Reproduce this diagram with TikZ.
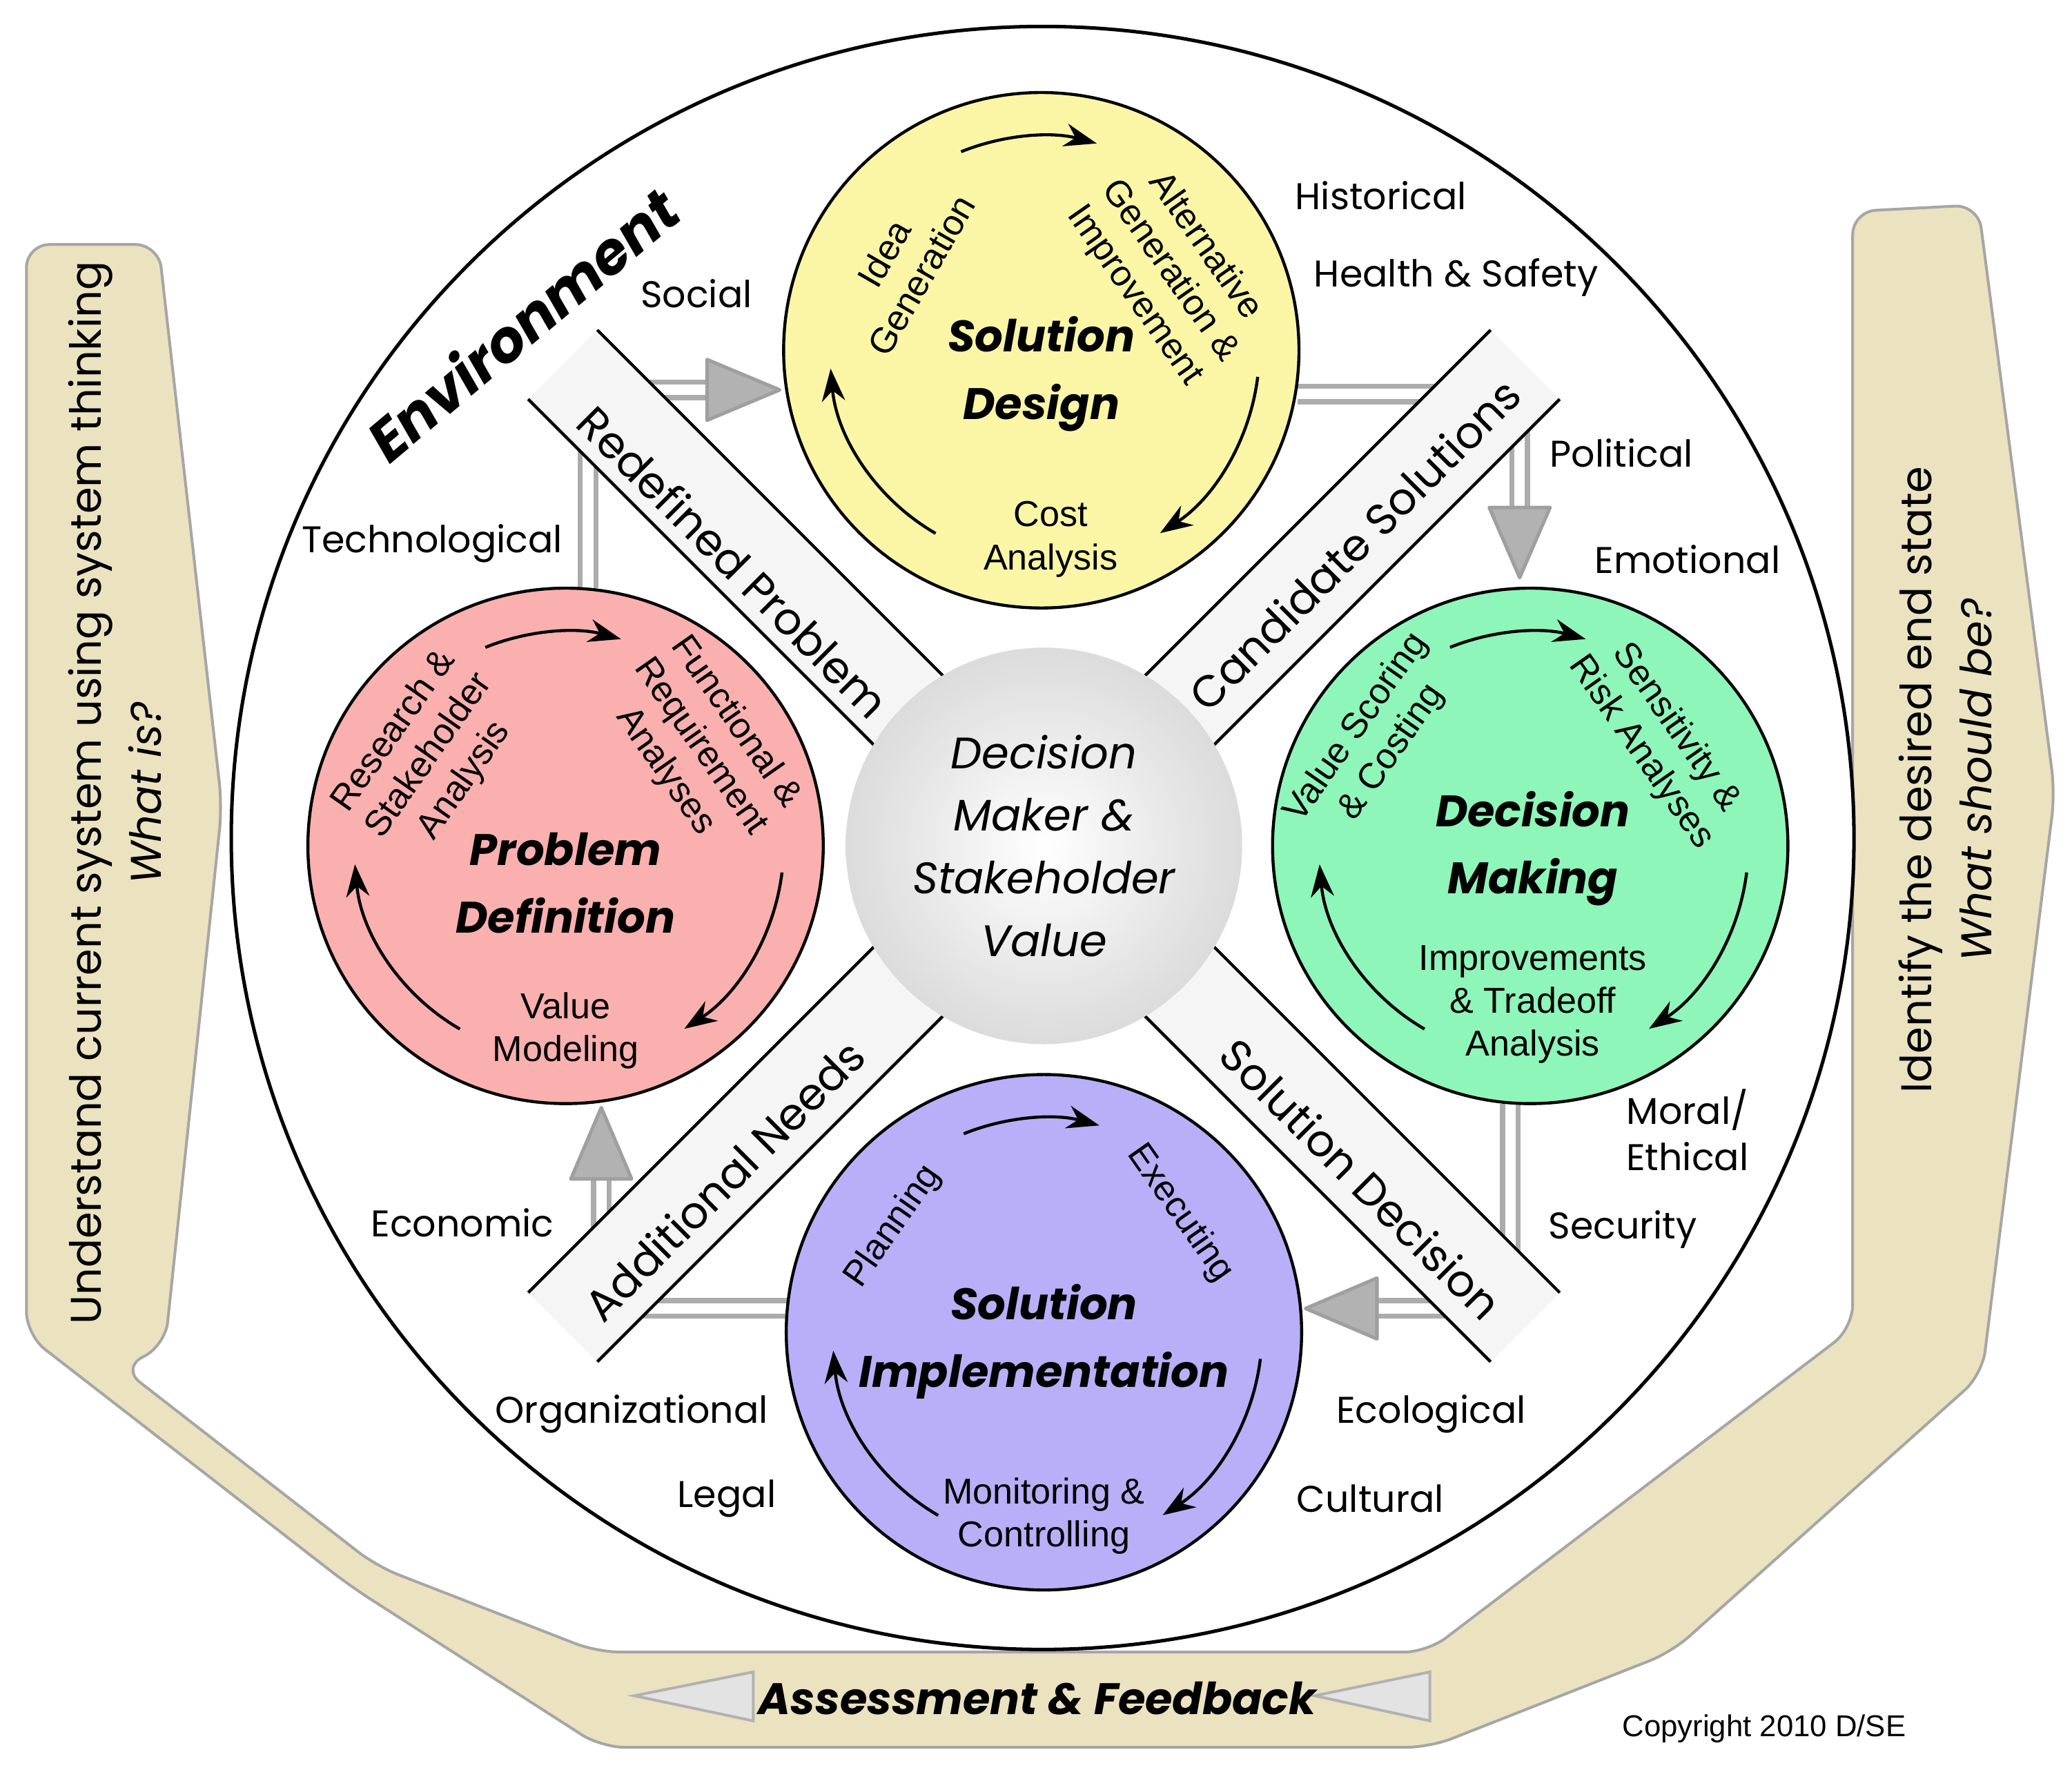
\documentclass[tikz,border=0pt]{standalone}
\usepackage{fontspec}
\setmainfont{Liberation Sans}
\newfontfamily\fut{Poppins}
\usetikzlibrary{arrows.meta}
\definecolor{beige}{HTML}{EBE2C0}
\definecolor{cyel}{HTML}{FAF6A6}
\definecolor{cpink}{HTML}{F9B0AE}
\definecolor{cgreen}{HTML}{8DF6B8}
\definecolor{cpurp}{HTML}{B8AFF8}
\tikzset{
  stage/.style={circle,draw=black,line width=1.3pt,minimum size=390*0.02cm,inner sep=0pt},
  env/.style={font=\fut\fontsize{16}{20}\selectfont},
  inner/.style={font=\fontsize{15.5}{18.5}\selectfont,align=center},
  title/.style={font=\fut\bfseries\itshape\fontsize{19}{29}\selectfont,align=center},
  band/.style={font=\fut\fontsize{19}{22}\selectfont},
  flow/.style={draw=gray!65,line width=2.2pt,double=white,double distance=4.5pt},
  head/.style={fill=gray!60,draw=gray!75,line width=1.5pt,line join=round},
  cyc/.style={line width=1.3pt,-{Stealth[length=14pt,width=10pt]}},
  side/.style={font=\fut\fontsize{18.5}{26}\selectfont,align=center},
}
\begin{document}
\begin{tikzpicture}[x=0.02cm,y=-0.02cm]
\useasboundingbox (0,0) rectangle (1568,1346);
% outer beige shape
\draw[fill=beige,draw=gray!70,line width=1.2pt,rounded corners=10pt]
 (20,185) -- (120,185) -- (168,610) -- (125,1018) -- (92,1035)
 -- (285,1185) -- (452,1250) -- (1080,1250) -- (1402,1005) -- (1402,160)
 -- (1497,155) -- (1555,600) -- (1500,1040) -- (1265,1250) -- (1082,1322)
 -- (455,1322) -- (265,1200) -- (20,1010) -- cycle;
\node[side,rotate=90] (lt) at (87,600) {Understand current system using system thinking\\\itshape What is?};
\node[side,rotate=90] (rt) at (1472,590) {Identify the desired end state\\\itshape What should be?};
\draw[fill=gray!22,draw=gray!60,line width=1.2pt] (480,1283) -- (570,1265) -- (570,1302) -- cycle;
\draw[fill=gray!22,draw=gray!60,line width=1.2pt] (995,1283) -- (1082,1265) -- (1082,1302) -- cycle;
\node[font=\fut\bfseries\itshape\fontsize{19}{22}\selectfont] (af) at (785,1285) {Assessment \& Feedback};
\node[font=\fontsize{13}{15}\selectfont] (cr) at (1335,1308) {Copyright 2010 D/SE};
% environment circle
\node[circle,draw=black,line width=1.5pt,fill=white,minimum size=1228*0.02cm] (env) at (789,634) {};
% flow arrows
\coordinate (a1) at (445,445); \coordinate (a2) at (445,295); \coordinate (a3) at (540,295);
\draw[flow] (a1) -- (a2) -- (a3);
\draw[head] (535,272) -- (590,295) -- (535,318) -- cycle;
\coordinate (b1) at (982,298); \coordinate (b2) at (1150,298); \coordinate (b3) at (1150,388);
\draw[flow] (b1) -- (b2) -- (b3);
\draw[head] (1127,384) -- (1150,437) -- (1173,384) -- cycle;
\coordinate (c1) at (1143,835); \coordinate (c2) at (1143,990); \coordinate (c3) at (1038,990);
\draw[flow] (c1) -- (c2) -- (c3);
\draw[head] (1042,967) -- (988,990) -- (1042,1013) -- cycle;
\coordinate (d1) at (597,990); \coordinate (d2) at (455,990); \coordinate (d3) at (455,888);
\draw[flow] (d1) -- (d2) -- (d3);
\draw[head] (432,892) -- (455,838) -- (478,892) -- cycle;
% strips
\foreach \a in {135,45,-45,-135}{
\begin{scope}[shift={(790,640)},rotate=\a]
 \fill[gray!8] (140,-37) rectangle (515,37);
 \draw[line width=1.3pt] (140,-37) -- (515,-37) (140,37) -- (515,37);
\end{scope}}
\node[band,rotate=-45] (rp) at (555,425) {Redefined Problem};
\node[band,rotate=45] (cs) at (1025,412) {Candidate Solutions};
\node[band,rotate=-45] (sd) at (1030,892) {Solution Decision};
\node[band,rotate=45] (an) at (548,893) {Additional Needs};
% stage circles
\node[stage,fill=cyel] (des) at (788,265) {};
\node[stage,fill=cpink] (pro) at (428,640) {};
\node[stage,fill=cgreen] (dec) at (1158,640) {};
\node[stage,fill=cpurp] (imp) at (790,1008) {};
\foreach \c in {des,pro,dec,imp}{
 \draw[cyc] ([shift={(-112:162)}]\c.center) arc[start angle=112,end angle=75,radius=162*0.02cm];
 \draw[cyc] ([shift={(7:165)}]\c.center) arc[start angle=-7,end angle=-57,radius=165*0.02cm];
 \draw[cyc] ([shift={(120:160)}]\c.center) arc[start angle=-120,end angle=-175,radius=160*0.02cm];
}
% center
\node[circle,inner color=white,outer color=gray!28,minimum size=300*0.02cm] (ctr) at (790,640) {};
\node[title,font=\fut\itshape\fontsize{19}{27}\selectfont] (ctt) at (790,640) {Decision\\Maker \&\\Stakeholder\\Value};
% stage texts
\node[title] (t1) at (788,283) {Solution\\Design};
\node[inner,rotate=60] (y1) at (683,200) {Idea\\Generation};
\node[inner,rotate=-55] (y2) at (885,205) {Alternative\\Generation \&\\Improvement};
\node[inner] (y3) at (795,408) {Cost\\Analysis};
\node[title] (t2) at (428,668) {Problem\\Definition};
\node[inner,rotate=55] (p1) at (325,572) {Research \&\\Stakeholder\\Analysis};
\node[inner,rotate=-55] (p2) at (530,565) {Functional \&\\Requirement\\Analyses};
\node[inner] (p3) at (428,780) {Value\\Modeling};
\node[title] (t3) at (1160,642) {Decision\\Making};
\node[inner,rotate=55] (g1) at (1040,560) {Value Scoring\\\& Costing};
\node[inner,rotate=-55] (g2) at (1255,560) {Sensitivity \&\\Risk Analyses};
\node[inner] (g3) at (1160,760) {Improvements\\\& Tradeoff\\Analysis};
\node[title] (t4) at (790,1015) {Solution\\Implementation};
\node[inner,rotate=55] (u1) at (676,928) {Planning};
\node[inner,rotate=-55] (u2) at (893,918) {Executing};
\node[inner] (u3) at (790,1147) {Monitoring \&\\Controlling};
% environment labels
\node[font=\fut\bfseries\itshape\fontsize{25}{30}\selectfont,rotate=40] (envt) at (395,245) {Environment};
\node[env] at (527,222) {Social};
\node[env] at (1045,148) {Historical};
\node[env] at (1102,210) {Health \& Safety};
\node[env] at (1227,343) {Political};
\node[env] at (1277,423) {Emotional};
\node[env] at (327,411) {Technological};
\node[env] at (350,925) {Economic};
\node[env] at (478,1070) {Organizational};
\node[env] at (550,1134) {Legal};
\node[env,align=center] at (1277,855) {Moral/\\Ethical};
\node[env] at (1228,930) {Security};
\node[env] at (1083,1070) {Ecological};
\node[env] at (1037,1134) {Cultural};
\end{tikzpicture}
\end{document}
